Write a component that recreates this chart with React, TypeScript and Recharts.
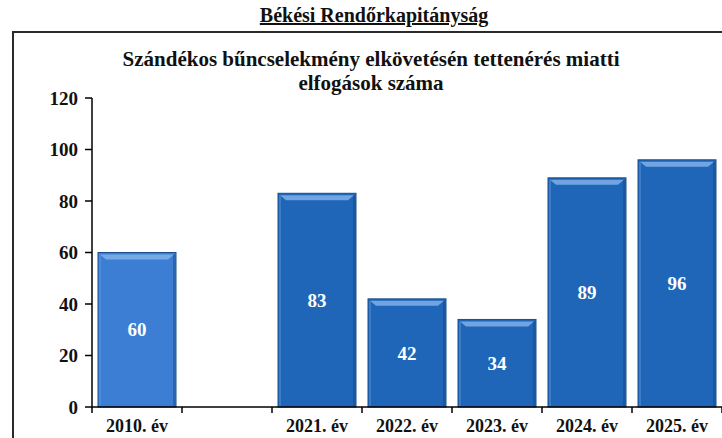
import { Bar, BarChart, Cell, LabelList, XAxis, YAxis } from "recharts";

const categories = ["2010. év", "", "2021. év", "2022. év", "2023. év", "2024. év", "2025. év"];
const arrests = [60, null, 83, 42, 34, 89, 96];
const yTicks = [0, 20, 40, 60, 80, 100, 120];

const data = categories.map((year, i) => ({ year, value: arrests[i] }));

const serif = '"Liberation Serif", "Times New Roman", serif';
const barColors = ["#3b7ed3", "#1f66b8", "#1f66b8", "#1f66b8", "#1f66b8", "#1f66b8", "#1f66b8"];

// bevelled bar like the old Excel 3D style
function BevelBar(props: any) {
  const { x, y, width, height, fill } = props;
  if (!height || height <= 0) return null;
  return (
    <g>
      <rect x={x} y={y} width={width} height={height} fill={fill} stroke="#1a4f8c" strokeWidth={1} />
      <polygon
        points={`${x + 2},${y + 2} ${x + width - 2},${y + 2} ${x + width - 8},${y + 7} ${x + 8},${y + 7}`}
        fill="#86b4ea"
        opacity={0.8}
      />
      <rect x={x + width - 3} y={y + 2} width={2} height={height - 3} fill="#164480" opacity={0.45} />
      <rect x={x + 1} y={y + 2} width={2} height={height - 3} fill="#6fa3e3" opacity={0.35} />
    </g>
  );
}

function YearTick(props: any) {
  const { x, y, payload, index, visibleTicksCount } = props;
  const half = payload?.offset || 45;
  return (
    <g>
      <line x1={x - half} y1={y - 8} x2={x - half} y2={y - 2} stroke="#000" strokeWidth={1.5} />
      {index === visibleTicksCount - 1 && (
        <line x1={x + half} y1={y - 8} x2={x + half} y2={y - 2} stroke="#000" strokeWidth={1.5} />
      )}
      <text
        x={x}
        y={y + 17}
        textAnchor="middle"
        fontFamily={serif}
        fontWeight="bold"
        fontSize={18}
        fill="#111"
      >
        {payload.value}
      </text>
    </g>
  );
}

export default function App() {
  return (
    <div
      style={{
        position: "absolute",
        left: 0,
        top: 0,
        width: 722,
        height: 438,
        overflow: "hidden",
        background: "#fff",
        fontFamily: serif,
      }}
    >
      <div
        style={{
          position: "absolute",
          left: 0,
          width: 748,
          top: 3,
          textAlign: "center",
          fontSize: 20,
          lineHeight: "24px",
          fontWeight: "bold",
          textDecoration: "underline",
          color: "#111",
        }}
      >
        Békési Rendőrkapitányság
      </div>
      <div
        style={{
          position: "absolute",
          left: 12,
          top: 31,
          width: 800,
          height: 500,
          border: "2.5px solid #2a2a2a",
        }}
      />
      <div
        style={{
          position: "absolute",
          left: 0,
          width: 742,
          top: 47,
          textAlign: "center",
          fontSize: 21,
          fontWeight: "bold",
          lineHeight: "24px",
          color: "#111",
        }}
      >
        Szándékos bűncselekmény elkövetésén tettenérés miatti
        <br />
        elfogások száma
      </div>
      <div style={{ position: "absolute", left: 0, top: 0 }}>
        <BarChart
          width={722}
          height={438}
          data={data}
          margin={{ top: 98, right: 0, bottom: 0, left: 0 }}
          barCategoryGap={6}
        >
          <XAxis
            dataKey="year"
            axisLine={{ stroke: "#000", strokeWidth: 1.5 }}
            tickLine={false}
            tick={<YearTick />}
            height={31}
            interval={0}
          />
          <YAxis
            width={92}
            domain={[0, 120]}
            ticks={yTicks}
            interval={0}
            axisLine={{ stroke: "#000", strokeWidth: 1.5 }}
            tickLine={{ stroke: "#000", strokeWidth: 1.5 }}
            tickSize={7}
            tickMargin={7}
            tick={{ fontFamily: serif, fontWeight: "bold", fontSize: 19, fill: "#111" }}
          />
          <Bar dataKey="value" shape={<BevelBar />} isAnimationActive={false}>
            {data.map((d, i) => (
              <Cell key={d.year + i} fill={barColors[i]} />
            ))}
            <LabelList
              dataKey="value"
              position="center"
              fill="#fff"
              fontFamily={serif}
              fontWeight="bold"
              fontSize={19}
            />
          </Bar>
        </BarChart>
      </div>
    </div>
  );
}
